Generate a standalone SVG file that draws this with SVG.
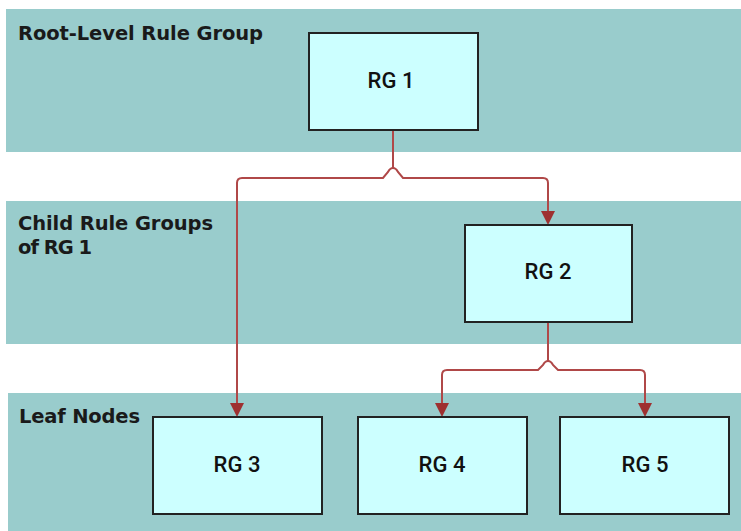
<svg xmlns="http://www.w3.org/2000/svg" width="741" height="531" viewBox="0 0 741 531">
<style>
.band{fill:#99CCCC}
.box{fill:#CCFFFF;stroke:#222;stroke-width:2}
.blabel{font-family:"DejaVu Sans",sans-serif;font-weight:bold;font-size:19.5px;fill:#1a1a1a}
.nlabel{font-family:Roboto,"Liberation Sans",sans-serif;font-weight:500;font-size:22px;fill:#111;text-anchor:middle}
.conn{fill:none;stroke:#B04848;stroke-width:2}
.arr{fill:#9E3030}
</style>
<rect width="741" height="531" fill="#fff"/>
<g id="bands">
<rect class="band" x="6" y="9" width="735" height="143"/>
<rect class="band" x="6" y="201" width="735" height="143"/>
<rect class="band" x="8" y="393" width="733" height="138"/>
<text class="blabel" x="18" y="40" textLength="245" lengthAdjust="spacing">Root-Level Rule Group</text>
<text class="blabel" x="18" y="230" textLength="195" lengthAdjust="spacing">Child Rule Groups</text>
<text class="blabel" x="18" y="254" textLength="74" lengthAdjust="spacing">of RG 1</text>
<text class="blabel" x="19" y="423" textLength="121" lengthAdjust="spacing">Leaf Nodes</text>
</g>
<g id="connectors">
<path class="conn" d="M393,130 V168 M393,168 Q390,168 388,172 L383,178 H242 Q237,178 237,183 V404"/>
<path class="conn" d="M393,168 Q396,168 398,172 L403,178 H543 Q548,178 548,183 V212"/>
<path class="conn" d="M548,322 V361 M548,361 Q545,361 543,365 L538,370 H447 Q442,370 442,375 V404"/>
<path class="conn" d="M548,361 Q551,361 553,365 L558,370 H640 Q645,370 645,375 V404"/>
<polygon class="arr" points="230,403 244,403 237,417"/>
<polygon class="arr" points="541,211 555,211 548,225"/>
<polygon class="arr" points="435,403 449,403 442,417"/>
<polygon class="arr" points="638,403 652,403 645,417"/>
</g>
<g id="rg1"><rect class="box" x="309" y="33" width="169" height="97"/><text class="nlabel" x="391" y="88">RG 1</text></g>
<g id="rg2"><rect class="box" x="465" y="225" width="167" height="97"/><text class="nlabel" x="548" y="279">RG 2</text></g>
<g id="rg3"><rect class="box" x="153" y="417" width="169" height="97"/><text class="nlabel" x="237" y="472">RG 3</text></g>
<g id="rg4"><rect class="box" x="358" y="417" width="169" height="97"/><text class="nlabel" x="442" y="472">RG 4</text></g>
<g id="rg5"><rect class="box" x="560" y="417" width="169" height="97"/><text class="nlabel" x="645" y="472">RG 5</text></g>
</svg>
